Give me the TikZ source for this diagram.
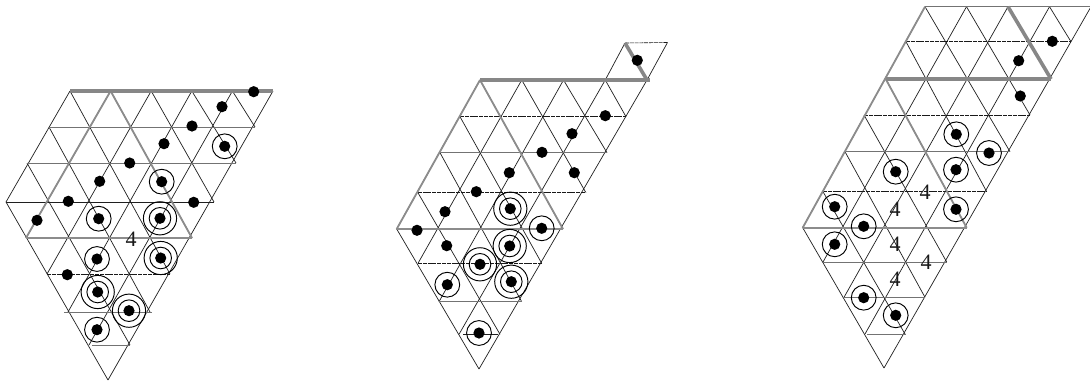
\documentclass[tikz,border=0pt]{standalone}
\usepackage{fontspec}
\setmainfont{Liberation Serif}
\tikzset{
  tline/.style={draw=black!88,line width=0.7pt},
  gthin/.style={draw=black!55,line width=1pt},
  dline/.style={draw=black!90,line width=0.6pt,dash pattern=on 4pt off 0.8pt},
  gmed/.style={draw=black!45,line width=1.8pt},
  gthick/.style={draw=black!47,line width=3.6pt},
  ringc/.style={draw=black,line width=0.95pt},
  dotc/.style={fill=black},
  digit/.style={font=\fontsize{22}{22}\selectfont,inner sep=0pt,text=black!90}
}
% name, width n, parallelogram rows r, rows m, Y, left X, right X
\newcommand{\latticepanel}[7]{
  \foreach \j in {0,...,#4}{
    \pgfmathtruncatemacro{\imin}{max(0,\j-#3)}
    \pgfmathsetmacro{\yy}{#5[\j]}
    \pgfmathsetmacro{\lx}{#6[\j]}
    \pgfmathsetmacro{\rx}{#7[\j]}
    \foreach \i in {\imin,...,#2}{
      \pgfmathsetmacro{\xx}{\lx+(\i-\imin)*(\rx-\lx)/max(1,#2-\imin)}
      \coordinate (#1-\i-\j) at (\xx,\yy);
    }
  }
  \foreach \i in {0,...,#2}{
    \pgfmathtruncatemacro{\e}{\i+#3}
    \draw[tline] (#1-\i-0) -- (#1-\i-\e);
  }
  \pgfmathtruncatemacro{\nm}{#2-1}
  \foreach \k in {1,...,\nm}{
    \pgfmathtruncatemacro{\e}{#2-\k}
    \draw[tline] (#1-\k-0) -- (#1-#2-\e);
  }
  \foreach \j in {0,...,#3}{
    \pgfmathtruncatemacro{\e}{\j+#2}
    \draw[tline] (#1-0-\j) -- (#1-#2-\e);
  }
}
\newcommand{\plaindots}[1]{\foreach \x/\y in {#1}{\fill[dotc] (\x,\y) circle (5.6);}}
\newcommand{\oneringdots}[1]{\foreach \x/\y in {#1}{\fill[dotc] (\x,\y) circle (5.6);\draw[ringc] (\x,\y) circle (12.4);}}
\newcommand{\tworingdots}[1]{\foreach \x/\y in {#1}{\fill[dotc] (\x,\y) circle (5.6);\draw[ringc] (\x,\y) circle (10.8);\draw[ringc] (\x,\y) circle (16.6);}}
\begin{document}
\begin{tikzpicture}[x=1pt,y=-1pt]
\useasboundingbox (0,0) rectangle (1090,381);
\fill[white] (0,0) rectangle (1090,381);
% ---------- panel A
\latticepanel{a}{5}{3}{8}{{91,127,163,202,238,274,312,345,380}}{{70,49,27,6,26,47,68,89,108}}{{273,255,236,214,192,170,150,130,108}}
\draw[gthin] (a-0-1) -- (a-5-1);
\draw[gthin] (a-0-2) -- (a-5-2);
\draw[tline] (a-0-3) -- (a-5-3);
\draw[dline] (a-2-5) -- (a-5-5);
\draw[gthin] (64,312) -- (152,312);
\draw[gthin] (92,345) -- (130,345);
\draw[gmed] (a-1-0) -- (a-1-4);
\draw[gmed] (a-1-0) -- (a-5-4);
\draw[gmed] (a-1-4) -- (a-5-4);
\draw[gthick] (a-0-0) -- (a-5-0);
\plaindots{253.7/91.7,222/106.7,192/126,164/143.7,129.7/163,99.7/181.3,68.3/201.3,37/220.3,193.7/202.3,67.3/274.7}
\oneringdots{224.7/146.3,161.7/181.7,98.7/218.7,97/259,97/329.7}
\tworingdots{160/218.3,160.7/258,97.7/292,129/310.7}
\node[digit] (fa) at (131,239) {4};
% ---------- panel B
\latticepanel{b}{4}{4}{8}{{80,116.7,152.7,192.3,229,263.3,301.7,334.3,369}}{{480,460,440,417.7,396.7,418,439,459,479}}{{647,626,607,585.7,563,541.7,521.7,500,479}}
\coordinate (b-tl) at (625,43);
\coordinate (b-tr) at (667.5,42.5);
\draw[tline] (b-tl) -- (b-3-0);
\draw[tline] (b-tr) -- (b-4-0);
\draw[dline] (b-tl) -- (b-tr);
\draw[dline] (b-0-1) -- (b-4-1);
\draw[gthin] (b-0-2) -- (b-4-2);
\draw[dline] (b-0-3) -- (b-4-3);
\draw[dline] (b-1-5) -- (b-4-5);
\draw[gthin] (b-2-6) -- (b-4-6);
\draw[tline] (463,334.3) -- (498,334.3);
\draw[gmed] (b-0-0) -- (b-0-4);
\draw[gmed] (b-0-0) -- (b-4-4);
\draw[gmed] (b-0-4) -- (b-4-4);
\draw[gthick] (b-0-0) -- (650,80);
\draw[gthick] (b-tl) -- (b-4-0);
\plaindots{637.3/60.3,605.3/115.7,572/133.7,542/152.3,509.3/172.7,574.3/172.7,476.3/191.7,445/211.7,417/230.3,446.7/245.7}
\oneringdots{541.7/228.3,447.3/284.7,479/333}
\tworingdots{510.3/208.7,509.7/246,480/264.3,511.3/281.7}
% ---------- panel C
\latticepanel{c}{4}{6}{10}{{6.7,41.7,79,115,151.7,191.7,227.7,262,297.3,334,368}}{{925,906,885.7,864,845,823,802.7,823,844,865,884}}{{1091,1071,1051,1030,1010,986.7,966.7,946.7,925,905,884}}
\draw[gthin] (c-0-0) -- (c-4-0);
\draw[dline] (c-0-1) -- (c-4-1);
\draw[dline] (c-0-3) -- (c-4-3);
\draw[gthin] (c-0-4) -- (c-4-4);
\draw[dline] (c-0-5) -- (c-4-5);
\draw[gthin] (c-1-7) -- (c-4-7);
\draw[gthin] (c-2-8) -- (c-4-8);
\draw[gthin] (867,334) -- (906,334);
\draw[gmed] (c-0-0) -- (c-0-6);
\draw[gmed] (c-0-2) -- (c-4-6);
\draw[gmed] (c-0-6) -- (c-4-6);
\draw[gthick] (c-0-2) -- (c-4-2);
\draw[gthick] (c-2-0) -- (c-4-2);
\plaindots{1052.3/41.3,1018.7/60.7,1020.3/96}
\oneringdots{956.3/134.3,989/153,895.7/171.7,956/169.7,956/209.3,834.7/206.7,863.7/226.3,834.7/244.3,863.7/297.7,895.7/315.3}
\node[digit] (fb) at (925,192.3) {4};
\node[digit] (fc) at (895,209) {4};
\node[digit] (fd) at (895,244) {4};
\node[digit] (fe) at (926,262.7) {4};
\node[digit] (ff) at (895,279) {4};
\end{tikzpicture}
\end{document}
